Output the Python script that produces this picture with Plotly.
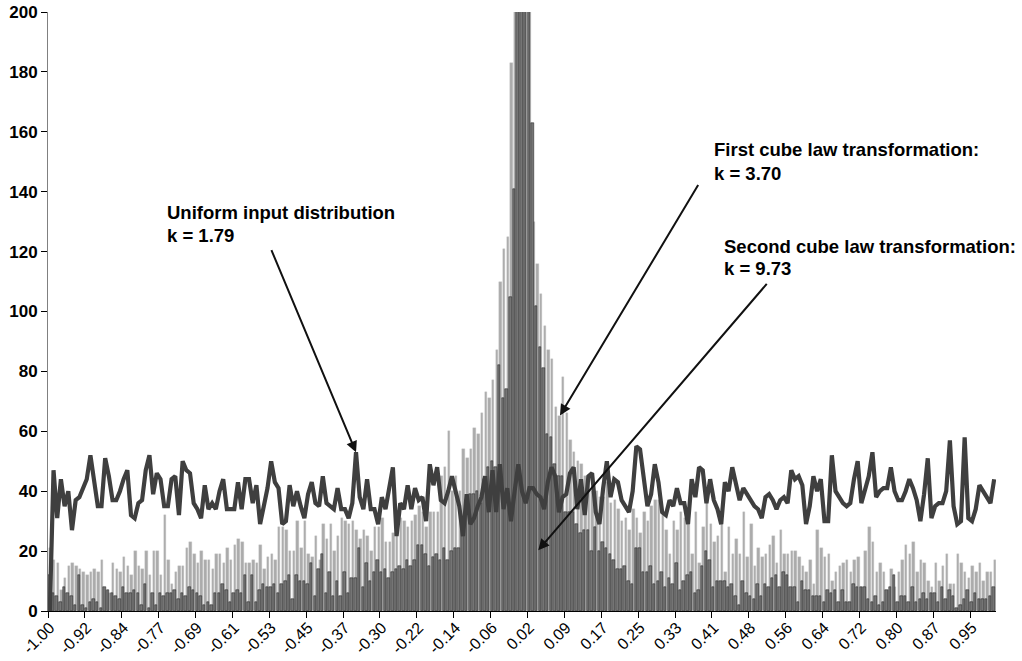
import plotly.graph_objects as go

# 257 histogram bins spanning -1.00 .. 1.00 (bin index 0..256)
bins = list(range(257))

tick_labels = ["-1.00", "-0.92", "-0.84", "-0.77", "-0.69", "-0.61", "-0.53", "-0.45",
               "-0.37", "-0.30", "-0.22", "-0.14", "-0.06", "0.02", "0.09", "0.17",
               "0.25", "0.33", "0.41", "0.48", "0.56", "0.64", "0.72", "0.80", "0.87", "0.95"]
tick_bins = [0, 10, 20, 30, 40, 50, 60, 70, 80, 90, 100, 110, 120, 130, 140, 150,
             160, 170, 180, 190, 200, 210, 220, 230, 240, 250]

# First cube law transformation (light bars)
first_cube = [
    21, 17, 16, 7, 11, 15, 16, 15, 14, 13, 12, 13, 14, 13, 17, 7, 6, 16, 14, 13,
    18, 15, 12, 20, 15, 14, 20, 12, 20, 20, 12, 32, 17, 9, 13, 15, 15, 21, 23, 19,
    16, 20, 17, 17, 14, 19, 19, 16, 21, 17, 22, 24, 23, 16, 16, 17, 16, 22, 14, 18,
    19, 17, 28, 28, 27, 20, 20, 30, 21, 30, 19, 18, 25, 17, 29, 24, 29, 20, 25, 31,
    30, 29, 30, 27, 24, 27, 25, 20, 28, 28, 31, 23, 23, 26, 31, 31, 30, 28, 30, 32,
    35, 33, 28, 33, 33, 33, 45, 48, 60, 40, 45, 40, 54, 51, 54, 61, 59, 66, 73, 71,
    77, 87, 110, 121, 125, 183, 240, 320, 360, 300, 250, 130, 116, 106, 95, 87, 84, 68, 65, 78,
    66, 57, 53, 50, 49, 45, 44, 40, 40, 38, 38, 43, 36, 37, 34, 30, 31, 27, 34, 31,
    26, 33, 30, 35, 37, 37, 33, 27, 19, 30, 27, 33, 31, 30, 19, 33, 16, 28, 37, 29,
    23, 25, 30, 13, 28, 19, 24, 19, 33, 18, 29, 15, 21, 18, 19, 22, 25, 16, 27, 19,
    19, 20, 20, 18, 15, 13, 17, 9, 27, 21, 18, 19, 10, 13, 15, 16, 17, 13, 17, 18,
    8, 20, 28, 23, 13, 16, 13, 7, 14, 8, 13, 17, 22, 19, 23, 13, 17, 16, 10, 8,
    16, 10, 15, 19, 9, 9, 19, 16, 13, 11, 15, 13, 16, 10, 13, 13, 17]

# Second cube law transformation (dark bars)
second_cube = [
    12, 6, 5, 3, 8, 6, 5, 2, 12, 2, 1, 3, 4, 3, 1, 8, 7, 6, 5, 4,
    8, 6, 6, 7, 6, 2, 9, 1, 6, 2, 6, 5, 6, 6, 7, 4, 6, 5, 8, 7,
    6, 5, 2, 3, 2, 6, 6, 9, 7, 3, 6, 7, 6, 12, 3, 12, 3, 7, 9, 8,
    8, 9, 6, 9, 10, 12, 4, 12, 10, 10, 9, 16, 5, 14, 19, 6, 13, 5, 10, 5,
    13, 6, 11, 11, 21, 8, 16, 10, 13, 17, 13, 14, 11, 13, 14, 15, 14, 17, 15, 17,
    22, 22, 19, 15, 18, 19, 17, 21, 17, 20, 21, 21, 28, 37, 39, 39, 40, 36, 44, 48,
    50, 48, 82, 71, 74, 105, 141, 260, 300, 280, 230, 163, 102, 88, 81, 59, 58, 49, 45, 45,
    33, 33, 33, 29, 26, 27, 27, 20, 28, 20, 23, 21, 19, 17, 14, 14, 15, 10, 9, 21,
    21, 13, 13, 15, 9, 10, 13, 8, 11, 9, 16, 7, 10, 12, 13, 6, 7, 15, 20, 17,
    8, 10, 10, 10, 8, 9, 5, 2, 10, 6, 5, 4, 9, 5, 9, 8, 11, 12, 8, 13,
    12, 8, 8, 3, 10, 7, 7, 5, 5, 5, 3, 7, 6, 7, 3, 7, 3, 3, 9, 8,
    8, 8, 4, 3, 5, 2, 3, 7, 8, 12, 3, 5, 5, 3, 8, 3, 4, 6, 4, 6,
    6, 3, 8, 4, 7, 5, 1, 2, 4, 7, 3, 6, 4, 4, 4, 5, 8]

# Uniform input distribution (line)
uniform_input = [
    0, 47, 31, 44, 35, 40, 27, 37, 38, 41, 44, 52, 44, 35, 35, 51, 45, 37, 37, 40,
    44, 47, 32, 31, 36, 37, 47, 52, 39, 46, 44, 35, 35, 44, 45, 32, 50, 47, 46, 36,
    34, 31, 42, 34, 36, 34, 40, 44, 34, 34, 34, 43, 34, 44, 44, 36, 42, 29, 35, 41,
    50, 43, 41, 29, 30, 42, 35, 40, 35, 31, 39, 43, 36, 35, 45, 36, 35, 34, 41, 34,
    34, 31, 36, 53, 38, 34, 44, 34, 34, 29, 38, 34, 41, 48, 25, 36, 34, 42, 34, 41,
    37, 38, 30, 49, 42, 48, 37, 36, 40, 45, 40, 35, 25, 39, 29, 31, 35, 38, 45, 33,
    47, 33, 49, 34, 41, 30, 40, 49, 40, 36, 41, 41, 39, 38, 34, 43, 48, 45, 33, 38,
    39, 46, 48, 34, 44, 32, 45, 46, 33, 29, 41, 50, 38, 44, 43, 37, 35, 33, 40, 55,
    54, 44, 35, 39, 49, 43, 33, 32, 37, 35, 41, 36, 36, 29, 44, 38, 48, 47, 36, 44,
    37, 34, 29, 43, 40, 48, 43, 37, 41, 39, 37, 35, 34, 31, 38, 39, 37, 34, 37, 38,
    36, 47, 44, 45, 42, 29, 35, 45, 40, 44, 30, 30, 52, 40, 38, 36, 35, 36, 44, 50,
    36, 40, 45, 53, 38, 40, 41, 41, 48, 40, 37, 37, 40, 44, 41, 37, 30, 39, 51, 31,
    35, 36, 36, 40, 57, 35, 29, 30, 58, 31, 30, 34, 42, 40, 38, 36, 44]

FONT = "Liberation Sans, Arial, sans-serif"

fig = go.Figure()

fig.add_trace(go.Bar(
    x=bins, y=first_cube, name="First cube law transformation",
    width=0.667, offset=-0.167,
    marker=dict(color="#ababab", line=dict(color="#c8c8c8", width=0.4)),
))
fig.add_trace(go.Bar(
    x=bins, y=second_cube, name="Second cube law transformation",
    width=0.667, offset=-0.5,
    marker=dict(color="#757575", line=dict(color="#1a1a1a", width=0.5)),
))
fig.add_trace(go.Scatter(
    x=bins, y=uniform_input, mode="lines", name="Uniform input distribution",
    line=dict(color="#3f3f3f", width=4.2),
))

# Plot-area geometry used to place the text labels in paper coordinates
PX0, PW, PY0, PH = 48.0, 948.0, 611.0, 599.0


def paper_x(px):
    return (px - PX0) / PW


def paper_y(py):
    return (PY0 - py) / PH


labels = [
    ("Uniform input distribution", 165, 212),
    ("k = 1.79", 165, 236),
    ("First cube law transformation:", 712, 150),
    ("k = 3.70", 712, 173),
    ("Second cube law transformation:", 722, 246),
    ("k = 9.73", 722, 269),
]
annotations = []
for txt, px, py in labels:
    annotations.append(dict(
        text="<b>" + txt + "</b>", xref="paper", yref="paper",
        x=paper_x(px), y=paper_y(py),
        xanchor="left", yanchor="middle", showarrow=False,
        font=dict(family=FONT, size=18.5, color="#000000"),
    ))

# Arrows from each label to the series it describes
arrows = [
    (83, uniform_input[83], 59.9, 121.0),
    (138.3, 65.3, 176.0, 142.7),
    (132.4, 20.3, 194.7, 109.7),
]
for x, y, ax, ay in arrows:
    annotations.append(dict(
        text="", x=x, y=y, ax=ax, ay=ay, xref="x", yref="y", axref="x", ayref="y",
        showarrow=True, arrowhead=2, arrowsize=1.1, arrowwidth=2, arrowcolor="#111111",
        standoff=0,
    ))

fig.update_layout(
    width=1022, height=661,
    margin=dict(l=48, r=26, t=12, b=50),
    paper_bgcolor="white", plot_bgcolor="white",
    barmode="overlay", bargap=0,
    showlegend=False,
    font=dict(family=FONT, color="#000000"),
    annotations=annotations,
    xaxis=dict(
        range=[-0.5, 256.5], tickmode="array", tickvals=tick_bins, ticktext=tick_labels,
        tickangle=-45, ticks="", showgrid=False, zeroline=False, automargin=False,
        showline=True, linecolor="#000000", linewidth=1,
        tickfont=dict(family=FONT, size=16, color="#000000"),
        minor=dict(tick0=-0.5, dtick=10, ticks="outside", ticklen=6, tickcolor="#000000",
                   tickwidth=1, showgrid=False),
    ),
    yaxis=dict(
        range=[0, 200], dtick=20, ticks="outside", ticklen=6, tickcolor="#000000",
        showgrid=False, zeroline=False, automargin=False,
        showline=True, linecolor="#808080", linewidth=1,
        tickfont=dict(family=FONT, size=17, color="#000000", weight="bold"),
    ),
)

fig.write_html("out.html")
